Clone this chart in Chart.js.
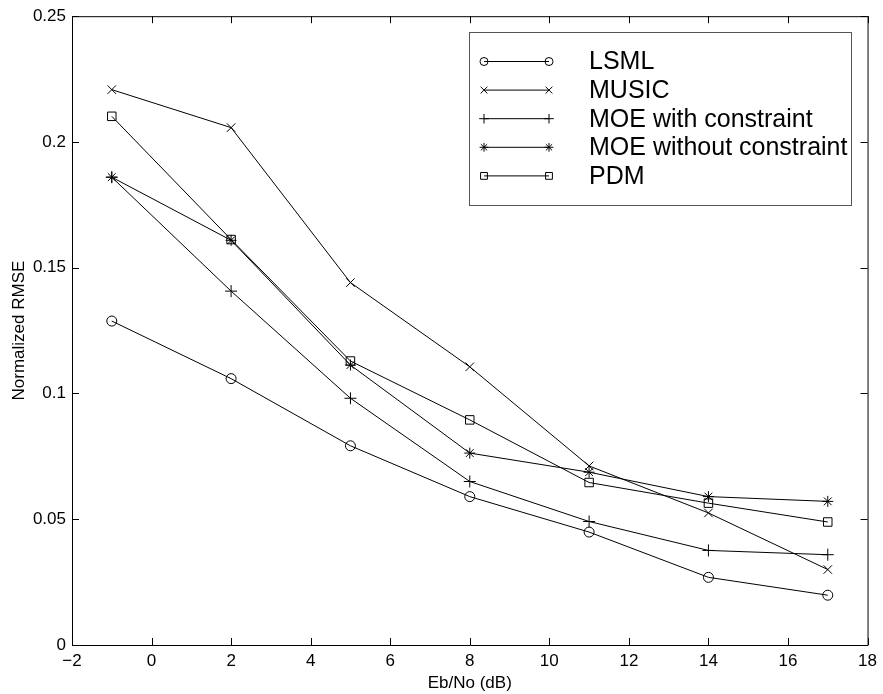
<!DOCTYPE html>
<html>
<head>
<meta charset="utf-8">
<script src="https://cdn.jsdelivr.net/npm/chart.js@4/dist/chart.umd.min.js"></script>
<style>
  html, body { margin: 0; padding: 0; background: #fff; }
  #wrap { width: 883px; height: 694px; }
</style>
</head>
<body>
<div id="wrap"><canvas id="rmse-chart" width="883" height="694"></canvas></div>
<script>
var ebNo = [-1, 2, 5, 8, 11, 14, 17];
var lsml = [0.1288, 0.1059, 0.0792, 0.0590, 0.0449, 0.0269, 0.0198];
var music = [0.2208, 0.2057, 0.1441, 0.1106, 0.0712, 0.0525, 0.0300];
var moeWith = [0.1860, 0.1407, 0.0981, 0.0650, 0.0491, 0.0376, 0.0359];
var moeWithout = [0.1860, 0.1609, 0.1113, 0.0763, 0.0687, 0.0590, 0.0571];
var pdm = [0.2102, 0.1612, 0.1129, 0.0895, 0.0646, 0.0564, 0.0489];

var FONT = "'Liberation Sans', Arial, Helvetica, sans-serif";

function pairs(ys) {
    return ebNo.map(function (x, i) { return { x: x, y: ys[i] }; });
}

function series(label, ys, style, radius) {
    return {
        label: label,
        data: pairs(ys),
        borderColor: "#000",
        borderWidth: 1,
        pointStyle: style,
        pointRadius: radius,
        pointBorderColor: "#000",
        pointBackgroundColor: "rgba(0,0,0,0)",
        pointBorderWidth: 1,
        fill: false,
        tension: 0,
    };
}

// matlab-style frame with inward ticks on all four sides
var framePlugin = {
    id: "frame",
    afterDraw: function (chart) {
        var ctx = chart.ctx;
        var a = chart.chartArea;
        var xs = chart.scales.x;
        var ys = chart.scales.y;
        var len = 7;
        ctx.save();
        ctx.strokeStyle = "#000";
        ctx.lineWidth = 1;
        ctx.beginPath();
        ctx.rect(a.left + 0.5, a.top + 0.5, a.right - a.left, a.bottom - a.top);
        xs.ticks.forEach(function (t) {
            var px = Math.round(xs.getPixelForValue(t.value)) + 0.5;
            ctx.moveTo(px, a.bottom);
            ctx.lineTo(px, a.bottom - len);
            ctx.moveTo(px, a.top);
            ctx.lineTo(px, a.top + len);
        });
        ys.ticks.forEach(function (t) {
            var py = Math.round(ys.getPixelForValue(t.value)) + 0.5;
            ctx.moveTo(a.left, py);
            ctx.lineTo(a.left + len, py);
            ctx.moveTo(a.right, py);
            ctx.lineTo(a.right - len, py);
        });
        ctx.stroke();
        ctx.restore();
    },
};

// legend box in the upper right of the axes
var legendBoxPlugin = {
    id: "legendBox",
    afterDraw: function (chart) {
        var ctx = chart.ctx;
        var box = { left: 469, top: 32, right: 851, bottom: 205 };
        ctx.save();
        ctx.fillStyle = "#fff";
        ctx.fillRect(box.left, box.top, box.right - box.left, box.bottom - box.top);
        ctx.strokeStyle = "#555";
        ctx.lineWidth = 1;
        ctx.strokeRect(box.left + 0.5, box.top + 0.5, box.right - box.left, box.bottom - box.top);
        ctx.font = "25px " + FONT;
        ctx.textBaseline = "middle";
        ctx.textAlign = "left";
        chart.data.datasets.forEach(function (ds, i) {
            var y = 61.5 + i * 28.6;
            ctx.strokeStyle = "#000";
            ctx.lineWidth = 1;
            ctx.beginPath();
            ctx.moveTo(484, y);
            ctx.lineTo(549, y);
            ctx.stroke();
            var opts = {
                pointStyle: ds.pointStyle,
                radius: ds.pointRadius * 0.8,
                rotation: 0,
                borderWidth: 1,
            };
            ctx.fillStyle = "rgba(0,0,0,0)";
            Chart.helpers.drawPoint(ctx, opts, 484, y);
            Chart.helpers.drawPoint(ctx, opts, 549, y);
            ctx.fillStyle = "#000";
            ctx.fillText(ds.label, 589, y + 1);
        });
        ctx.restore();
    },
};

var ctx = document.getElementById("rmse-chart").getContext("2d");

var chart = new Chart(ctx, {
    type: "line",
    data: {
        datasets: [
            series("LSML", lsml, "circle", 5),
            series("MUSIC", music, "crossRot", 6),
            series("MOE with constraint", moeWith, "cross", 6),
            series("MOE without constraint", moeWithout, "star", 5.5),
            series("PDM", pdm, "rect", 6),
        ],
    },
    options: {
        responsive: false,
        animation: false,
        layout: {
            padding: { left: 9, right: 11, top: 16, bottom: 0 },
        },
        plugins: {
            legend: { display: false },
            tooltip: { enabled: false },
        },
        scales: {
            x: {
                type: "linear",
                min: -2,
                max: 18,
                ticks: {
                    stepSize: 2,
                    color: "#000",
                    padding: 6,
                    maxRotation: 0,
                    font: { family: FONT, size: 17 },
                    callback: function (v) {
                        return v < 0 ? "\u2212" + Math.abs(v) : String(v);
                    },
                },
                grid: { display: false, drawTicks: false },
                border: { display: false },
                title: {
                    display: true,
                    text: "Eb/No (dB)",
                    color: "#000",
                    padding: 0,
                    font: { family: FONT, size: 17 },
                },
                afterFit: function (scale) { scale.height = 49; },
            },
            y: {
                type: "linear",
                min: 0,
                max: 0.25,
                ticks: {
                    stepSize: 0.05,
                    color: "#000",
                    padding: 6,
                    font: { family: FONT, size: 17 },
                    callback: function (v) { return String(+v.toFixed(2)); },
                },
                grid: { display: false, drawTicks: false },
                border: { display: false },
                title: {
                    display: true,
                    text: "Normalized RMSE",
                    color: "#000",
                    padding: 0,
                    font: { family: FONT, size: 17 },
                },
                afterFit: function (scale) { scale.width = 63; },
            },
        },
    },
    plugins: [framePlugin, legendBoxPlugin],
});
</script>
</body>
</html>
